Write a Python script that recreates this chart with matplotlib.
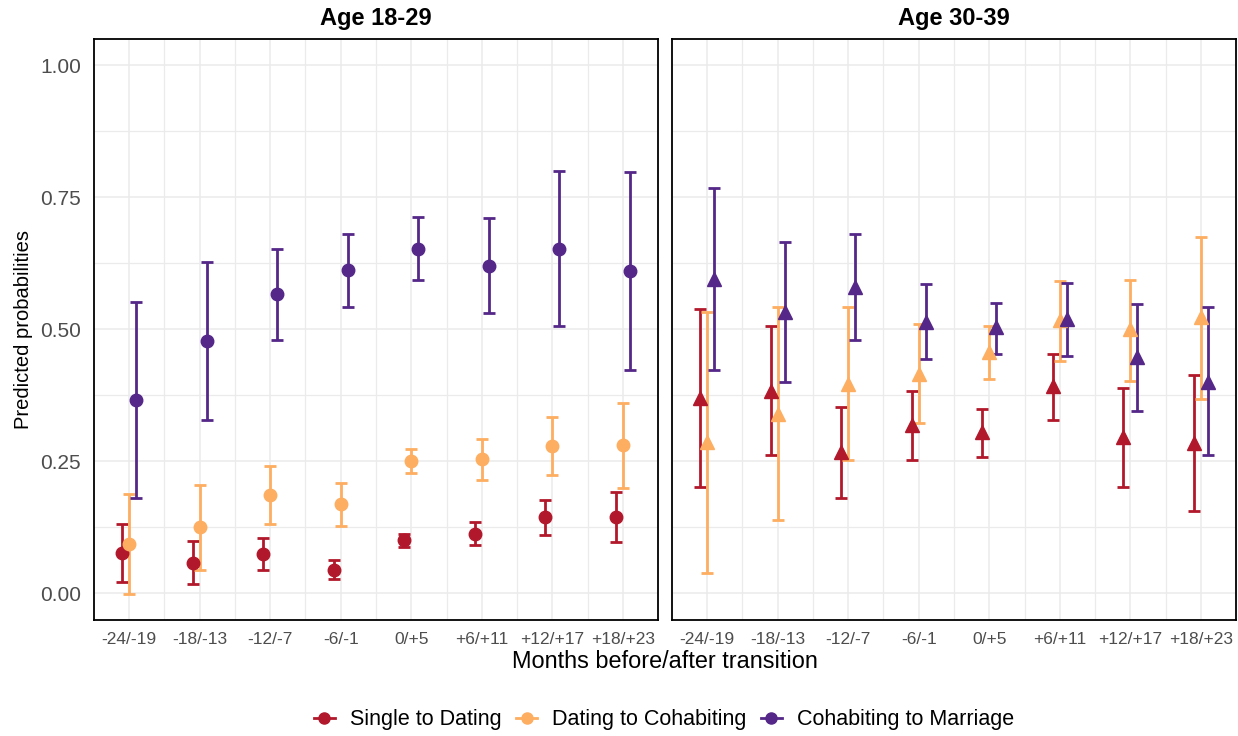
import numpy as np
import matplotlib.pyplot as plt
from matplotlib.lines import Line2D
from matplotlib.ticker import MultipleLocator

plt.rcParams['font.family'] = ['Liberation Sans', 'DejaVu Sans']

periods = ['-24/-19', '-18/-13', '-12/-7', '-6/-1', '0/+5', '+6/+11', '+12/+17', '+18/+23']
groups = ['Single to Dating', 'Dating to Cohabiting', 'Cohabiting to Marriage']
colors = ['#B2182B', '#FDAE61', '#542788']

# Age 18-29: estimate, lower, upper
young_single     = [0.076, 0.058, 0.075, 0.045, 0.101, 0.112, 0.144, 0.144]
young_single_lo  = [0.021, 0.017, 0.044, 0.027, 0.088, 0.091, 0.110, 0.098]
young_single_hi  = [0.131, 0.100, 0.104, 0.064, 0.113, 0.135, 0.177, 0.191]
young_dating     = [0.093, 0.125, 0.186, 0.169, 0.251, 0.254, 0.279, 0.280]
young_dating_lo  = [-0.002, 0.044, 0.132, 0.128, 0.228, 0.214, 0.225, 0.199]
young_dating_hi  = [0.189, 0.206, 0.241, 0.209, 0.274, 0.293, 0.333, 0.361]
young_cohab      = [0.366, 0.478, 0.566, 0.612, 0.652, 0.620, 0.652, 0.610]
young_cohab_lo   = [0.180, 0.328, 0.479, 0.542, 0.593, 0.530, 0.506, 0.422]
young_cohab_hi   = [0.552, 0.628, 0.652, 0.681, 0.713, 0.710, 0.800, 0.798]

# Age 30-39
old_single       = [0.370, 0.384, 0.268, 0.318, 0.306, 0.392, 0.296, 0.285]
old_single_lo    = [0.201, 0.262, 0.180, 0.253, 0.258, 0.329, 0.202, 0.155]
old_single_hi    = [0.539, 0.507, 0.353, 0.384, 0.350, 0.454, 0.388, 0.413]
old_dating       = [0.287, 0.340, 0.397, 0.416, 0.457, 0.517, 0.501, 0.524]
old_dating_lo    = [0.038, 0.138, 0.253, 0.323, 0.405, 0.440, 0.402, 0.368]
old_dating_hi    = [0.532, 0.542, 0.542, 0.510, 0.507, 0.591, 0.594, 0.675]
old_cohab        = [0.595, 0.532, 0.580, 0.514, 0.504, 0.520, 0.447, 0.400]
old_cohab_lo     = [0.422, 0.400, 0.480, 0.444, 0.454, 0.449, 0.345, 0.261]
old_cohab_hi     = [0.767, 0.666, 0.681, 0.585, 0.549, 0.587, 0.547, 0.542]

panels = [
    ('Age 18-29', 'o', [(young_single, young_single_lo, young_single_hi),
                        (young_dating, young_dating_lo, young_dating_hi),
                        (young_cohab, young_cohab_lo, young_cohab_hi)]),
    ('Age 30-39', '^', [(old_single, old_single_lo, old_single_hi),
                        (old_dating, old_dating_lo, old_dating_hi),
                        (old_cohab, old_cohab_lo, old_cohab_hi)]),
]

W, H = 1238, 736
fig = plt.figure(figsize=(W / 100, H / 100), dpi=100)
offsets = [-0.1, 0.0, 0.1]
x = np.arange(1, len(periods) + 1)

lefts = [93.7, 671.7]
pw, ph = 564.6, 580.8
bottom = (H - 619.7) / H

for k, (title, mk, series) in enumerate(panels):
    ax = fig.add_axes([lefts[k] / W, bottom, pw / W, ph / H])
    ax.set_xlim(0.5, 8.5)
    ax.set_ylim(-0.05, 1.05)
    ax.set_xticks(x)
    ax.set_xticks(x + 0.5, minor=True)
    ax.set_xticklabels(periods)
    ax.yaxis.set_major_locator(MultipleLocator(0.25))
    ax.yaxis.set_minor_locator(MultipleLocator(0.125))
    ax.grid(which='major', color='#EBEBEB', lw=1.1)
    ax.grid(which='minor', color='#EBEBEB', lw=0.9)
    ax.set_axisbelow(True)
    ax.tick_params(which='both', length=0)
    ax.tick_params(axis='x', labelsize=12.5, labelcolor='#4D4D4D', pad=9)
    ax.tick_params(axis='y', labelsize=15, labelcolor='#4D4D4D', pad=9)
    for s in ax.spines.values():
        s.set_linewidth(1.3)
        s.set_color('black')
    if k == 0:
        ax.set_yticks([0, 0.25, 0.5, 0.75, 1.0])
        ax.set_yticklabels(['0.00', '0.25', '0.50', '0.75', '1.00'])
        ax.set_ylabel('Predicted probabilities', fontsize=14.5, labelpad=5)
    else:
        ax.set_yticklabels([])
    for j, (est, lo, hi) in enumerate(series):
        est = np.array(est)
        yerr = [est - np.array(lo), np.array(hi) - est]
        ms = 9 if mk == 'o' else 10
        ax.errorbar(x + offsets[j], est, yerr=yerr, fmt=mk, color=colors[j],
                    ms=ms, elinewidth=2, capsize=4.5, capthick=2, zorder=3)
    fig.text((lefts[k] + pw / 2) / W, 1 - 18 / H, title, ha='center', va='center',
             fontsize=17, fontweight='bold')

fig.text(665 / W, 1 - 661 / H, 'Months before/after transition', ha='center', va='center',
         fontsize=16.9)

handles = [Line2D([0], [0], color=c, marker='o', ms=8, lw=2) for c in colors]
fig.legend(handles, groups, loc='center', bbox_to_anchor=(664 / W, 1 - 720 / H), ncol=3,
           frameon=False, fontsize=15.5, handlelength=1.0, handletextpad=0.7, columnspacing=0.65)

fig.savefig('out.png', dpi=100)
